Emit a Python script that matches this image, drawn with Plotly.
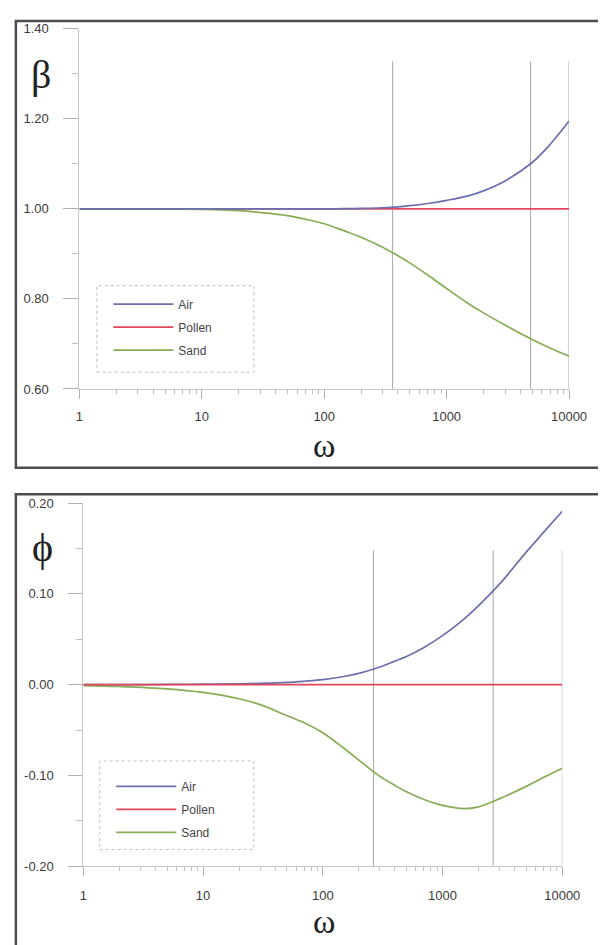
import plotly.graph_objects as go

# ---------------- data ----------------
omega = [1, 2, 5, 10, 20, 30, 50, 70, 100, 150, 200, 300, 400, 500, 700,
         1000, 1500, 2000, 3000, 5000, 7000, 10000]

beta_air = [1.0, 1.0, 1.0, 1.0, 1.0, 1.0, 1.0, 1.0, 1.0, 1.0004, 1.001, 1.0025,
            1.0045, 1.007, 1.012, 1.019, 1.029, 1.04, 1.062, 1.103, 1.143, 1.195]
beta_pollen = [1.0] * len(omega)
beta_sand = [1.0, 1.0, 0.9995, 0.999, 0.996, 0.992, 0.985, 0.977, 0.967, 0.950,
             0.937, 0.915, 0.896, 0.880, 0.853, 0.823, 0.790, 0.769, 0.742,
             0.710, 0.691, 0.673]

phi_air = [0.0, 0.0, 0.0003, 0.0006, 0.001, 0.0015, 0.0025, 0.0038, 0.0055,
           0.009, 0.0125, 0.0195, 0.026, 0.031, 0.041, 0.054, 0.072, 0.087,
           0.111, 0.146, 0.168, 0.191]
phi_pollen = [0.0] * len(omega)
phi_sand = [-0.001, -0.002, -0.0045, -0.0085, -0.0155, -0.022, -0.034, -0.042,
            -0.053, -0.070, -0.083, -0.101, -0.111, -0.118, -0.1265, -0.133,
            -0.1365, -0.1345, -0.1255, -0.112, -0.102, -0.092]

series_names = ["Air", "Pollen", "Sand"]
series_colors = ["#6a6fb0", "#e2465a", "#86ad55"]

beta_marks = [362, 4850, 10000]
beta_mark_top = 1.328
phi_marks = [265, 2650, 10000]
phi_mark_top = 0.148

x_tickvals = [1, 10, 100, 1000, 10000]
x_ticktext = ["1", "10", "100", "1000", "10000"]
beta_tickvals = [0.6, 0.8, 1.0, 1.2, 1.4]
beta_ticktext = ["0.60", "0.80", "1.00", "1.20", "1.40"]
phi_tickvals = [-0.2, -0.1, 0.0, 0.1, 0.2]
phi_ticktext = ["-0.20", "-0.10", "0.00", "0.10", "0.20"]

# ---------------- layout helpers ----------------
# the page body keeps its default 8 px margin, so the figure is drawn
# 8 px in from the window corner; positions below are window pixels.
OFF = 8
W, H = 606, 945


def px(x):
    return (x - OFF) / W


def py(y):
    return 1 - (y - OFF) / H


minor_x = [m * 10 ** d for d in range(4) for m in range(2, 10)]

fig = go.Figure()

beta_vals = dict(zip(series_names, [beta_air, beta_pollen, beta_sand]))
phi_vals = dict(zip(series_names, [phi_air, phi_pollen, phi_sand]))
colors = dict(zip(series_names, series_colors))
rank = {n: i + 1 for i, n in enumerate(series_names)}

# drawing order: top panel has Air on top, bottom panel has Pollen on top
for name in ["Pollen", "Sand", "Air"]:
    fig.add_trace(go.Scatter(x=omega, y=beta_vals[name], mode="lines", name=name,
                             line=dict(color=colors[name], width=1.7, shape="spline"),
                             xaxis="x", yaxis="y", legend="legend",
                             legendgroup="b" + name, legendrank=rank[name]))
for name in ["Air", "Sand", "Pollen"]:
    fig.add_trace(go.Scatter(x=omega, y=phi_vals[name], mode="lines", name=name,
                             line=dict(color=colors[name], width=1.7, shape="spline"),
                             xaxis="x2", yaxis="y2", legend="legend2",
                             legendgroup="p" + name, legendrank=rank[name]))

tickfont = dict(family="Liberation Sans, Arial", size=13, color="#3a3a3a")
axis_common = dict(showgrid=False, zeroline=False, showline=True,
                   linecolor="#c8c8c8", linewidth=1, ticks="outside",
                   tickcolor="#b0b0b0", tickwidth=1, tickfont=tickfont)

shapes = []
# outer frames
shapes.append(dict(type="rect", xref="paper", yref="paper",
                   x0=px(12), x1=1.05, y0=py(468), y1=py(14),
                   line=dict(color="#4d4d4d", width=2.5), layer="below"))
shapes.append(dict(type="rect", xref="paper", yref="paper",
                   x0=px(12), x1=1.05, y0=-0.05, y1=py(495),
                   line=dict(color="#4d4d4d", width=2.5), layer="below"))
# legend boxes
shapes.append(dict(type="rect", xref="paper", yref="paper",
                   x0=px(96), x1=px(259), y0=py(371), y1=py(283),
                   line=dict(color="#c0c0c0", width=1, dash="dot")))
shapes.append(dict(type="rect", xref="paper", yref="paper",
                   x0=px(99), x1=px(259), y0=py(856), y1=py(766),
                   line=dict(color="#c0c0c0", width=1, dash="dot")))
# vertical marker lines
for v in beta_marks:
    shapes.append(dict(type="line", xref="x", yref="y",
                       x0=v, x1=v, y0=0.6, y1=beta_mark_top,
                       line=dict(color="#a8a8a8", width=1), layer="below"))
for v in phi_marks:
    shapes.append(dict(type="line", xref="x2", yref="y2",
                       x0=v, x1=v, y0=-0.2, y1=phi_mark_top,
                       line=dict(color="#a8a8a8", width=1), layer="below"))

greek = dict(family="Liberation Serif, Times New Roman, serif", size=40, color="#222")
omega_font = dict(family="Liberation Serif, Times New Roman, serif", size=34, color="#222")
annotations = [
    dict(text="β", xref="paper", yref="paper", x=px(38), y=py(68),
         xanchor="center", yanchor="middle", showarrow=False, font=greek),
    dict(text="ϕ", xref="paper", yref="paper", x=px(40), y=py(549),
         xanchor="center", yanchor="middle", showarrow=False, font=greek),
    dict(text="ω", xref="paper", yref="paper", x=px(332), y=py(445),
         xanchor="center", yanchor="middle", showarrow=False, font=omega_font),
    dict(text="ω", xref="paper", yref="paper", x=px(332), y=py(929),
         xanchor="center", yanchor="middle", showarrow=False, font=omega_font),
]

legend_common = dict(xanchor="left", yanchor="top", bgcolor="rgba(0,0,0,0)",
                     borderwidth=0, font=dict(family="Liberation Sans, Arial", size=12, color="#444"),
                     tracegroupgap=4, itemwidth=60)

fig.update_layout(
    width=W, height=H, margin=dict(l=0, r=0, t=0, b=0),
    paper_bgcolor="white", plot_bgcolor="white",
    xaxis=dict(axis_common, domain=[px(78), px(586)], anchor="y", type="log",
               range=[0, 4], tickvals=x_tickvals, ticktext=x_ticktext, ticklen=9,
               ticklabelstandoff=6,
               minor=dict(tickvals=minor_x, ticks="outside", ticklen=4, tickcolor="#c0c0c0")),
    yaxis=dict(axis_common, domain=[py(388), py(22)], anchor="x", range=[0.6, 1.4],
               tickvals=beta_tickvals, ticktext=beta_ticktext, ticklen=15,
               ticklabelstandoff=12,
               minor=dict(tickvals=[0.7, 0.9, 1.1, 1.3], ticks="outside", ticklen=6, tickcolor="#c0c0c0")),
    xaxis2=dict(axis_common, domain=[px(82), px(579)], anchor="y2", type="log",
                range=[0, 4], tickvals=x_tickvals, ticktext=x_ticktext, ticklen=9,
                ticklabelstandoff=8,
                minor=dict(tickvals=minor_x, ticks="outside", ticklen=4, tickcolor="#c0c0c0")),
    yaxis2=dict(axis_common, domain=[py(873), py(504)], anchor="x2", range=[-0.2, 0.2],
                tickvals=phi_tickvals, ticktext=phi_ticktext, ticklen=14,
                ticklabelstandoff=12,
                minor=dict(tickvals=[-0.15, -0.05, 0.05, 0.15], ticks="outside", ticklen=6, tickcolor="#c0c0c0")),
    legend=dict(legend_common, x=px(108), y=py(287)),
    legend2=dict(legend_common, x=px(111), y=py(777)),
    shapes=shapes, annotations=annotations, showlegend=True,
)

fig.write_html("out.html", config={"displayModeBar": False})
